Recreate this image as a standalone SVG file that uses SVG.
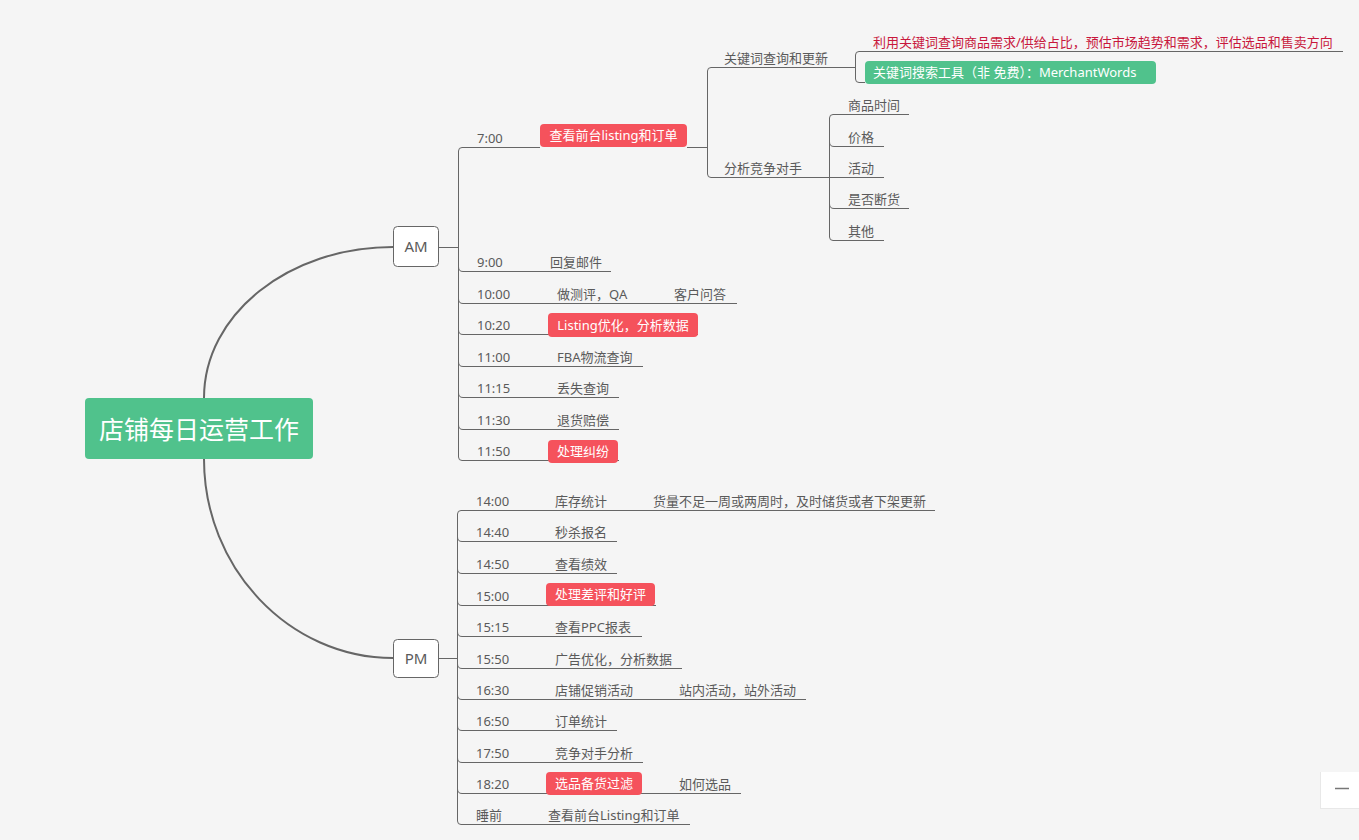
<svg xmlns="http://www.w3.org/2000/svg" width="1359" height="840" viewBox="0 0 1359 840">
<style>
.t{font-family:"Noto Sans","Noto Sans CJK SC",sans-serif;font-size:13px;fill:#5a5a5a}
.w{fill:#ffffff}
.c{text-anchor:middle}
.red{fill:#c8173c}
.rp{fill:#f5525c}
.gp{fill:#50c28c}
.ln{stroke:#666;stroke-width:1;fill:none}
.main{stroke:#666;stroke-width:2;fill:none}
.box{fill:#fff;stroke:#666;stroke-width:1}
</style>
<rect width="1359" height="840" fill="#f5f5f5"/>

<g id="connectors">
  <path class="main" d="M204,398 C204,314 289,247 393,247"/>
  <path class="main" d="M204,459 C204,568 289,658 393,658"/>
  <path class="ln" d="M439,247.5 H458.5"/>
  <path class="ln" d="M439,658.5 H457.5"/>
  <path class="ln" d="M540,147.5 H462 Q458.5,147.5 458.5,151 V457 Q458.5,460.5 462,460.5 H619"/>
  <path class="ln" d="M458.5,267 Q458.5,271.5 463,271.5 H611"/>
  <path class="ln" d="M458.5,299 Q458.5,303.5 463,303.5 H737"/>
  <path class="ln" d="M458.5,330 Q458.5,334.5 463,334.5 H698"/>
  <path class="ln" d="M458.5,362 Q458.5,366.5 463,366.5 H643"/>
  <path class="ln" d="M458.5,393 Q458.5,397.5 463,397.5 H619"/>
  <path class="ln" d="M458.5,425 Q458.5,429.5 463,429.5 H619"/>
  <path class="ln" d="M687,147.5 H707.5"/>
  <path class="ln" d="M855,67.5 H711 Q707.5,67.5 707.5,71 V174 Q707.5,177.5 711,177.5 H884"/>
  <path class="ln" d="M1343,51.5 H859 Q855.5,51.5 855.5,55 V79 Q855.5,82.5 859,82.5 H865"/>
  <path class="ln" d="M909,114.5 H833 Q829.5,114.5 829.5,118 V237 Q829.5,240.5 833,240.5 H884"/>
  <path class="ln" d="M829.5,142 Q829.5,146.5 834,146.5 H884"/>
  <path class="ln" d="M829.5,204 Q829.5,208.5 834,208.5 H909"/>
  <path class="ln" d="M935,510.5 H461 Q457.5,510.5 457.5,514 V821 Q457.5,824.5 461,824.5 H690"/>
  <path class="ln" d="M457.5,537 Q457.5,541.5 462,541.5 H617"/>
  <path class="ln" d="M457.5,569 Q457.5,573.5 462,573.5 H617"/>
  <path class="ln" d="M457.5,601 Q457.5,605.5 462,605.5 H656"/>
  <path class="ln" d="M457.5,632 Q457.5,636.5 462,636.5 H642"/>
  <path class="ln" d="M457.5,664 Q457.5,668.5 462,668.5 H682"/>
  <path class="ln" d="M457.5,695 Q457.5,699.5 462,699.5 H806"/>
  <path class="ln" d="M457.5,726 Q457.5,730.5 462,730.5 H617"/>
  <path class="ln" d="M457.5,758 Q457.5,762.5 462,762.5 H643"/>
  <path class="ln" d="M457.5,789 Q457.5,793.5 462,793.5 H741"/>
</g>

<g id="root">
  <rect x="85" y="398" width="228" height="61" rx="4" class="gp"/>
  <text x="199" y="439" class="t w c" style="font-size:25px">店铺每日运营工作</text>
</g>
<g id="am">
  <rect x="393.5" y="226.5" width="45" height="40" rx="4" class="box"/>
  <text x="416" y="252" class="t c" style="font-size:15px">AM</text>
</g>
<g id="pm">
  <rect x="393.5" y="639.5" width="45" height="38" rx="4" class="box"/>
  <text x="416" y="664" class="t c" style="font-size:15px">PM</text>
</g>

<g id="am-700">
  <text x="477" y="143" class="t">7:00</text>
  <rect x="540" y="124" width="147" height="23" rx="4" class="rp"/>
  <text x="613.5" y="140" class="t w c">查看前台listing和订单</text>
</g>
<g id="kw">
  <text x="724" y="63" class="t">关键词查询和更新</text>
  <text x="873" y="47" class="t red">利用关键词查询商品需求/供给占比，预估市场趋势和需求，评估选品和售卖方向</text>
  <rect x="865" y="61" width="291" height="23" rx="4" class="gp"/>
  <text x="873" y="77" class="t w">关键词搜索工具（非 免费）：MerchantWords</text>
</g>
<g id="comp">
  <text x="724" y="173" class="t">分析竞争对手</text>
  <text x="848" y="110" class="t">商品时间</text>
  <text x="848" y="142" class="t">价格</text>
  <text x="848" y="173" class="t">活动</text>
  <text x="848" y="204" class="t">是否断货</text>
  <text x="848" y="236" class="t">其他</text>
</g>
<g id="am-900"><text x="477" y="267" class="t">9:00</text><text x="550" y="267" class="t">回复邮件</text></g>
<g id="am-1000"><text x="477" y="299" class="t">10:00</text><text x="557" y="299" class="t">做测评，QA</text><text x="674" y="299" class="t">客户问答</text></g>
<g id="am-1020"><text x="477" y="330" class="t">10:20</text>
  <rect x="548" y="313" width="150" height="24" rx="4" class="rp"/>
  <text x="623" y="329.5" class="t w c">Listing优化，分析数据</text></g>
<g id="am-1100"><text x="477" y="362" class="t">11:00</text><text x="557" y="362" class="t">FBA物流查询</text></g>
<g id="am-1115"><text x="477" y="393" class="t">11:15</text><text x="557" y="393" class="t">丢失查询</text></g>
<g id="am-1130"><text x="477" y="425" class="t">11:30</text><text x="557" y="425" class="t">退货赔偿</text></g>
<g id="am-1150"><text x="477" y="456" class="t">11:50</text>
  <rect x="548" y="440" width="70" height="23" rx="4" class="rp"/>
  <text x="583" y="456" class="t w c">处理纠纷</text></g>

<g id="pm-1400"><text x="476" y="506" class="t">14:00</text><text x="555" y="506" class="t">库存统计</text><text x="653" y="506" class="t">货量不足一周或两周时，及时储货或者下架更新</text></g>
<g id="pm-1440"><text x="476" y="537" class="t">14:40</text><text x="555" y="537" class="t">秒杀报名</text></g>
<g id="pm-1450"><text x="476" y="569" class="t">14:50</text><text x="555" y="569" class="t">查看绩效</text></g>
<g id="pm-1500"><text x="476" y="601" class="t">15:00</text>
  <rect x="546" y="583" width="109" height="23" rx="4" class="rp"/>
  <text x="600.5" y="599" class="t w c">处理差评和好评</text></g>
<g id="pm-1515"><text x="476" y="632" class="t">15:15</text><text x="555" y="632" class="t">查看PPC报表</text></g>
<g id="pm-1550"><text x="476" y="664" class="t">15:50</text><text x="555" y="664" class="t">广告优化，分析数据</text></g>
<g id="pm-1630"><text x="476" y="695" class="t">16:30</text><text x="555" y="695" class="t">店铺促销活动</text><text x="679" y="695" class="t">站内活动，站外活动</text></g>
<g id="pm-1650"><text x="476" y="726" class="t">16:50</text><text x="555" y="726" class="t">订单统计</text></g>
<g id="pm-1750"><text x="476" y="758" class="t">17:50</text><text x="555" y="758" class="t">竞争对手分析</text></g>
<g id="pm-1820"><text x="476" y="789" class="t">18:20</text>
  <rect x="546" y="772" width="96" height="23" rx="4" class="rp"/>
  <text x="594" y="788" class="t w c">选品备货过滤</text>
  <text x="679" y="789" class="t">如何选品</text></g>
<g id="pm-sleep"><text x="476" y="820" class="t">睡前</text><text x="548" y="820" class="t">查看前台Listing和订单</text></g>

<g id="widget">
  <rect x="1320" y="772" width="39" height="37" fill="#e8e8e8"/>
  <rect x="1321" y="772" width="38" height="36" fill="#ffffff"/>
  <path d="M1335,788.5 H1349" stroke="#777" stroke-width="1.5"/>
</g>
</svg>
